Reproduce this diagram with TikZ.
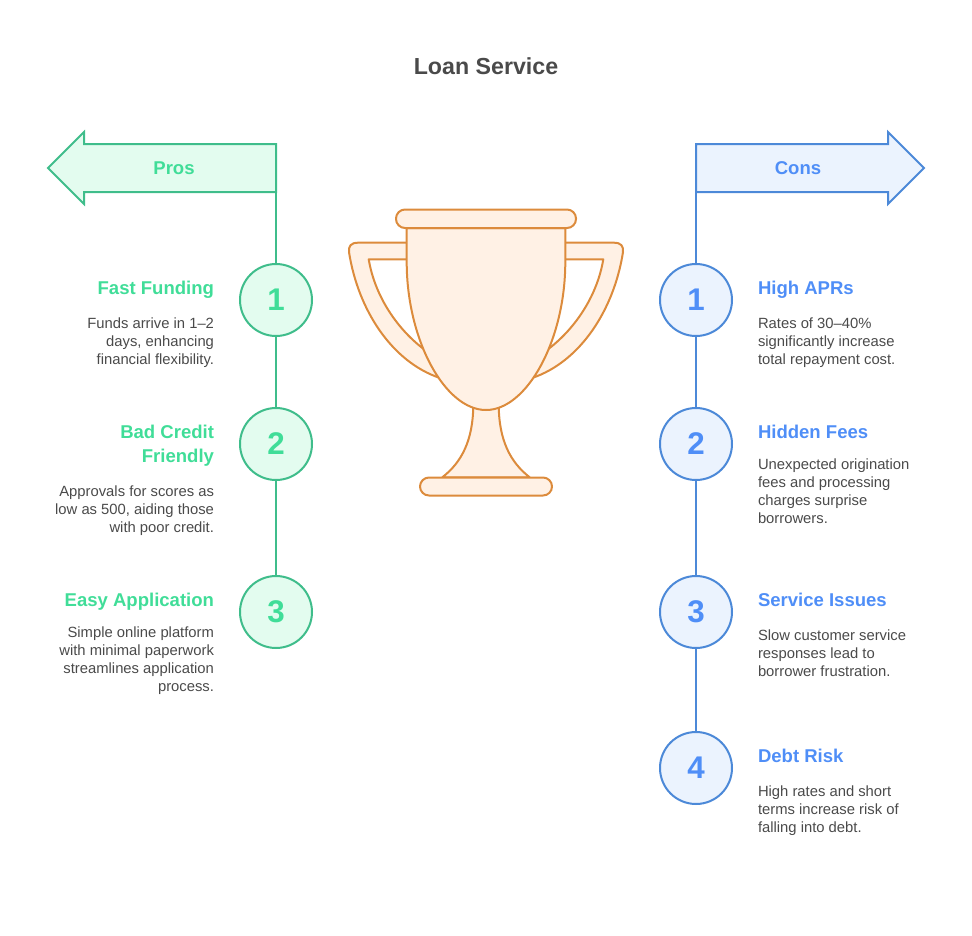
\documentclass[tikz,border=0pt]{standalone}
\usepackage{fontspec}
\setmainfont{Liberation Sans}
\definecolor{gline}{HTML}{3FBD8B}
\definecolor{gfill}{HTML}{E3FCEF}
\definecolor{gtext}{HTML}{40DD98}
\definecolor{bline}{HTML}{4C89D8}
\definecolor{bfill}{HTML}{EBF3FE}
\definecolor{btext}{HTML}{4F8EF7}
\definecolor{oline}{HTML}{DC8B3C}
\definecolor{ofill}{HTML}{FFF1E5}
\definecolor{ink}{HTML}{4A4A4A}
\newcommand{\handlepath}{(407,242.7) -- (358,242.7) .. controls (351,242.7) and (348.5,246) .. (349,252) .. controls (358,310) and (392,362) .. (440,378) -- (425,350) .. controls (398,330) and (375,297) .. (368.7,259.3) -- (407,259.3)}
\tikzset{
  x=0.75pt,y=-0.75pt,
  every node/.style={inner sep=0pt,outer sep=0pt,font=\fontsize{11.1}{13.5}\selectfont},
  gshape/.style={draw=gline,fill=gfill,line width=1.5pt},
  bshape/.style={draw=bline,fill=bfill,line width=1.5pt},
  oshape/.style={draw=oline,fill=ofill,line width=1.5pt,line join=round},
  gcirc/.style={circle,gshape,minimum size=54pt,text=gtext,font=\fontsize{23.5}{26}\selectfont\bfseries},
  bcirc/.style={circle,bshape,minimum size=54pt,text=btext,font=\fontsize{23.5}{26}\selectfont\bfseries},
  banner/.style={font=\fontsize{13.9}{18}\selectfont\bfseries},
  ghead/.style={anchor=north east,align=right,text=gtext,font=\fontsize{13.9}{18}\selectfont\bfseries},
  bhead/.style={anchor=north west,align=left,text=btext,font=\fontsize{13.9}{18}\selectfont\bfseries},
  gbody/.style={anchor=north east,align=right,text=ink},
  bbody/.style={anchor=north west,align=left,text=ink},
}
\begin{document}
\begin{tikzpicture}
\useasboundingbox (0,0) rectangle (972,936);
\node[text=ink,font=\fontsize{17.4}{22}\selectfont\bfseries] (title) at (486,66) {Loan Service};
% banners
\draw[gshape] (276,144) -- (84,144) -- (84,132) -- (48,168) -- (84,204) -- (84,192) -- (276,192) -- cycle;
\draw[bshape] (696,144) -- (888,144) -- (888,132) -- (924,168) -- (888,204) -- (888,192) -- (696,192) -- cycle;
\node[banner,text=gtext] (pros) at (174,168) {Pros};
\node[banner,text=btext] (cons) at (798,168) {Cons};
\coordinate (prosfoot) at (276,192);
\coordinate (consfoot) at (696,192);
% circles
\node[gcirc] (p1) at (276,300) {1};
\node[gcirc] (p2) at (276,444) {2};
\node[gcirc] (p3) at (276,612) {3};
\node[bcirc] (c1) at (696,300) {1};
\node[bcirc] (c2) at (696,444) {2};
\node[bcirc] (c3) at (696,612) {3};
\node[bcirc] (c4) at (696,768) {4};
\draw[gline,line width=1.5pt] (prosfoot) -- (p1);
\draw[gline,line width=1.5pt] (p1) -- (p2);
\draw[gline,line width=1.5pt] (p2) -- (p3);
\draw[bline,line width=1.5pt] (consfoot) -- (c1);
\draw[bline,line width=1.5pt] (c1) -- (c2);
\draw[bline,line width=1.5pt] (c2) -- (c3);
\draw[bline,line width=1.5pt] (c3) -- (c4);
% left texts
\node[ghead] (h1) at (214,281) {Fast Funding};
\node[gbody] (t1) at (214,318) {Funds arrive in 1–2\\days, enhancing\\financial flexibility.};
\node[ghead] (h2) at (214,425) {Bad Credit\\Friendly};
\node[gbody] (t2) at (214,486) {Approvals for scores as\\low as 500, aiding those\\with poor credit.};
\node[ghead] (h3) at (214,593) {Easy Application};
\node[gbody] (t3) at (214,627) {Simple online platform\\with minimal paperwork\\streamlines application\\process.};
% right texts
\node[bhead] (h4) at (758,281) {High APRs};
\node[bbody] (t4) at (758,318) {Rates of 30–40\%\\significantly increase\\total repayment cost.};
\node[bhead] (h5) at (758,425) {Hidden Fees};
\node[bbody] (t5) at (758,459) {Unexpected origination\\fees and processing\\charges surprise\\borrowers.};
\node[bhead] (h6) at (758,593) {Service Issues};
\node[bbody] (t6) at (758,630) {Slow customer service\\responses lead to\\borrower frustration.};
\node[bhead] (h7) at (758,749) {Debt Risk};
\node[bbody] (t7) at (758,786) {High rates and short\\terms increase risk of\\falling into debt.};
% trophy
\draw[oshape] \handlepath;
\begin{scope}[shift={(972,0)},xscale=-1]
\draw[oshape] \handlepath;
\end{scope}
\draw[oshape] (473.3,405) .. controls (473,440) and (462,462) .. (442.3,477.3) -- (529.7,477.3) .. controls (510,462) and (499,440) .. (498.7,405);
\draw[oshape] (406.7,228) -- (406.7,262) .. controls (406.7,340) and (445,410) .. (486,410) .. controls (527,410) and (565.3,340) .. (565.3,262) -- (565.3,228) -- cycle;
\draw[oshape,rounded corners=6.75pt] (396,209.5) rectangle (576,228);
\draw[oshape,rounded corners=6.75pt] (420,477.5) rectangle (552,495.5);
\end{tikzpicture}
\end{document}
